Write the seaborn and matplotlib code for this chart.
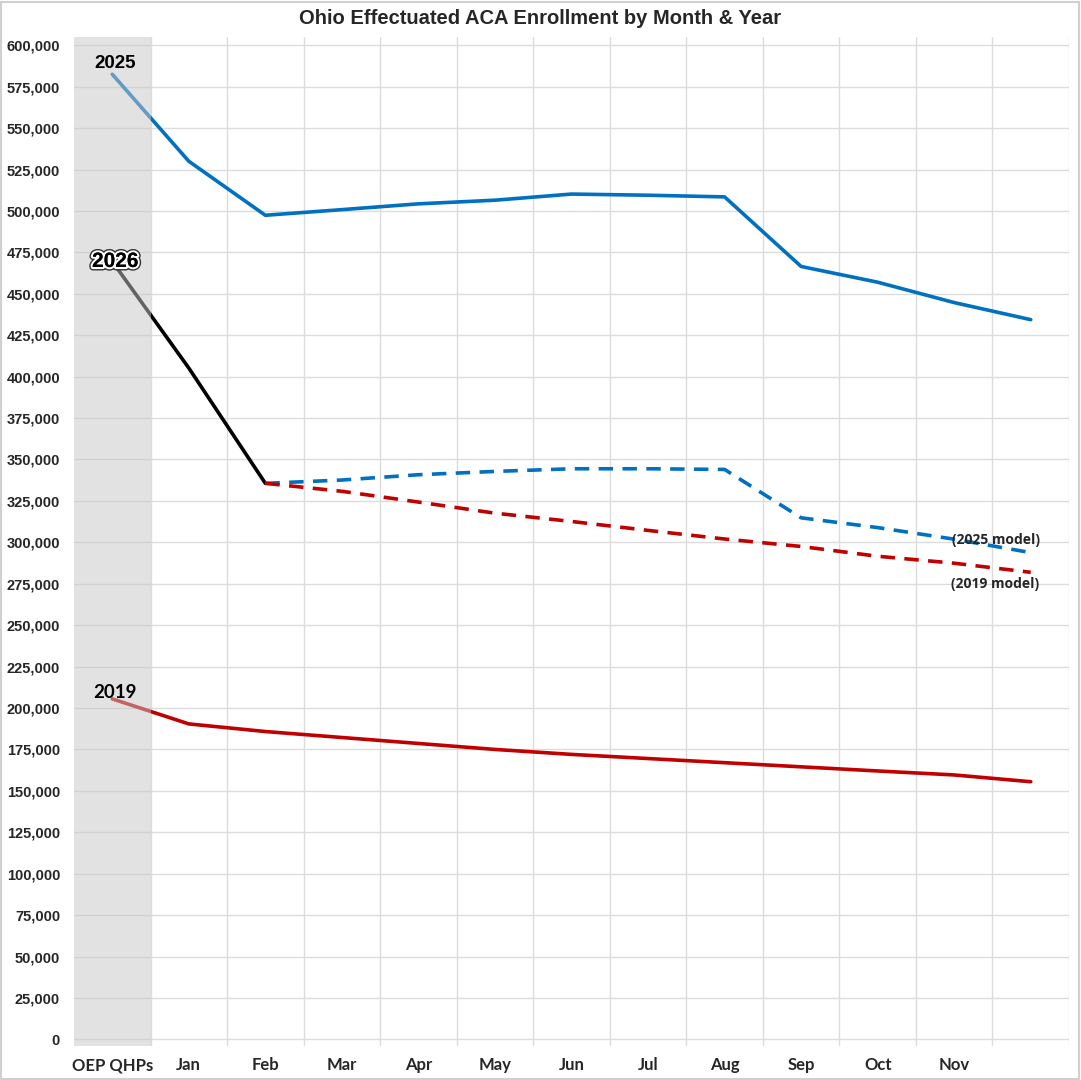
import numpy as np
import pandas as pd
import seaborn as sns
import matplotlib.pyplot as plt
import matplotlib.patheffects as pe
from matplotlib.ticker import FuncFormatter, MultipleLocator
from matplotlib.patches import Rectangle

# DATA
months = ["OEP QHPs", "Jan", "Feb", "Mar", "Apr", "May", "Jun",
          "Jul", "Aug", "Sep", "Oct", "Nov", "Dec"]
tick_labels = ["OEP QHPs", "Jan", "Feb", "Mar", "Apr", "May", "Jun",
               "Jul", "Aug", "Sep", "Oct", "Nov", ""]

y2025 = [582500, 530000, 497400, 500800, 504300, 506500, 510200,
         509500, 508500, 466500, 457000, 444700, 434400]
y2026 = [469500, 405200, 335600]
y2019 = [205500, 190400, 185800, 182200, 178600, 175000, 172000,
         169500, 167000, 164500, 162000, 159600, 155500]
model2025 = [335600, 337600, 340800, 342800, 344400, 344400, 344000,
             314800, 308900, 301900, 293800]
model2019 = [335600, 330800, 324300, 317600, 312600, 307200, 302000,
             297500, 291600, 287400, 281900]

BLUE = "#0070C0"
RED = "#C00000"
NARROW = ['Lato', 'DejaVu Sans']

sns.set_theme(style="white")
plt.rcParams['font.family'] = ['Liberation Sans', 'DejaVu Sans']

fig = plt.figure(figsize=(10.81, 10.8), dpi=100)
ax = fig.add_axes([74 / 1081, 1 - 1046 / 1080, (1069 - 74) / 1081, (1046 - 37) / 1080])

xpos = np.arange(len(months))

sns.lineplot(x=xpos, y=y2025, ax=ax, color=BLUE, lw=2.6, zorder=3)
sns.lineplot(x=xpos[:3], y=y2026, ax=ax, color="black", lw=2.6, zorder=3)
sns.lineplot(x=xpos, y=y2019, ax=ax, color=RED, lw=2.6, zorder=3)
sns.lineplot(x=xpos[2:], y=model2025, ax=ax, color=BLUE, lw=2.6, zorder=3)
sns.lineplot(x=xpos[2:], y=model2019, ax=ax, color=RED, lw=2.6, zorder=3)
for l in ax.lines[-2:]:
    l.set_linestyle((0, (4, 2.6)))

# shaded OEP band drawn over the lines
ax.axvspan(-0.5, 0.5, color="#c7c7c7", alpha=0.5, lw=0, zorder=4)

ax.set_xlim(-0.5, 12.5)
ax.set_ylim(-4000, 605000)
ax.yaxis.set_major_locator(MultipleLocator(25000))
ax.yaxis.set_major_formatter(FuncFormatter(lambda v, p: f"{int(v):,}"))
ax.set_xticks(xpos)
ax.set_xticklabels(tick_labels)
ax.set_xticks(np.arange(0.5, 13, 1), minor=True)
ax.grid(False)
ax.grid(True, which="major", axis="y", color="#dcdcdc", lw=1, zorder=0)
ax.grid(True, which="minor", axis="x", color="#dcdcdc", lw=1, zorder=0)
ax.tick_params(axis="both", which="both", length=0)
ax.tick_params(axis="y", pad=10)
ax.tick_params(axis="x", pad=8)
for lab in ax.get_yticklabels():
    lab.set_fontweight("bold")
    lab.set_fontsize(10.5)
for lab in ax.get_xticklabels():
    lab.set_family(NARROW)
    lab.set_fontweight("bold")
    lab.set_fontsize(12)
for s in ax.spines.values():
    s.set_visible(False)
ax.set_xlabel("")
ax.set_ylabel("")

# labels
ax.text(0.04, 589000, "2025", ha="center", va="center", fontsize=13.5,
        fontweight="bold", color="black", zorder=6)
ax.text(0.04, 469500, "2026", ha="center", va="center", fontsize=15,
        fontweight="bold", color="black", zorder=6,
        path_effects=[pe.withStroke(linewidth=5, foreground="#333333"),
                      pe.withStroke(linewidth=3, foreground="white"),
                      pe.Normal()])
ax.text(0.04, 209500, "2019", ha="center", va="center", fontsize=13.5,
        fontweight="bold", color="black", zorder=6, family=NARROW)
ax.text(11.54, 301500, "(2025 model)", ha="center", va="center",
        fontsize=10, fontweight="bold", family=['Open Sans', 'DejaVu Sans'], zorder=6)
ax.text(11.54, 275000, "(2019 model)", ha="center", va="center",
        fontsize=10, fontweight="bold", family=['Open Sans', 'DejaVu Sans'], zorder=6)

fig.text(540 / 1081, 1 - 19 / 1080, "Ohio Effectuated ACA Enrollment by Month & Year",
         ha="center", va="center", fontsize=14.5, fontweight="bold")

# chart border
fig.patches.append(Rectangle((0.001, 0.001), 0.997, 0.997, transform=fig.transFigure,
                             fill=False, edgecolor="#d0d0d0", lw=1.5))

fig.savefig("out.png", dpi=100)
